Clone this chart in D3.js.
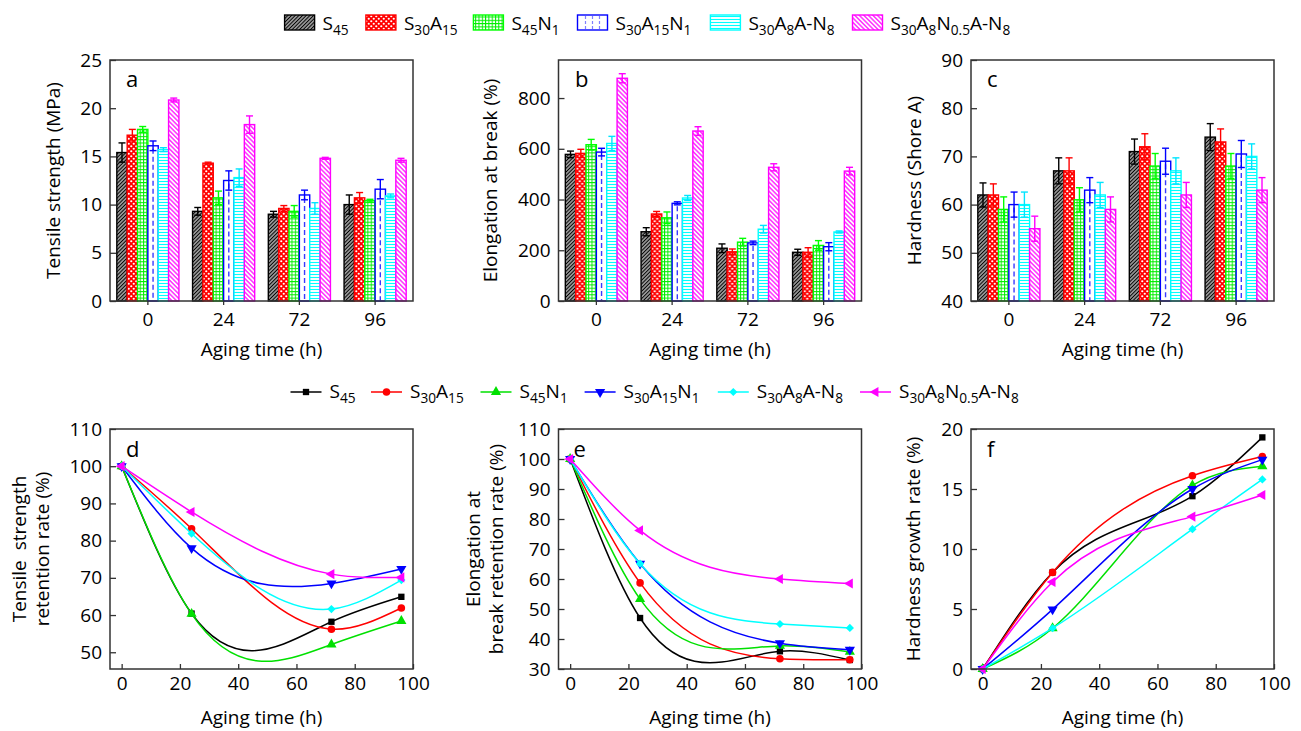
<!DOCTYPE html>
<html>
<head>
<meta charset="utf-8">
<script src="https://cdn.jsdelivr.net/npm/d3@7"></script>
<style>
  body { margin: 0; background: #fff; }
  svg { display: block; font-family: "Open Sans", sans-serif; }
</style>
</head>
<body>
<div id="chart"></div>
<script>
// aging times and samples
const times = [0, 24, 72, 96];
const samples = ['S45', 'S30A15', 'S45N1', 'S30A15N1', 'S30A8A-N8', 'S30A8N0.5A-N8'];
const colors = ['#000000', '#ff0000', '#00ff00', '#0000ff', '#00ffff', '#ff00ff'];
const lineColors = ['#000000', '#ff0000', '#00e000', '#0000ff', '#00ffff', '#ff00ff'];

// tensile strength (MPa), rows = samples, cols = times
const tensileMean = [
  [15.4, 9.3, 9.0, 10.0],
  [17.2, 14.3, 9.6, 10.7],
  [17.8, 10.7, 9.3, 10.4],
  [16.1, 12.5, 11.0, 11.6],
  [15.7, 12.8, 9.6, 10.9],
  [20.85, 18.3, 14.8, 14.6]
];
const tensileErr = [
  [1.0, 0.4, 0.3, 1.0],
  [0.6, 0.1, 0.3, 0.55],
  [0.3, 0.7, 0.6, 0.15],
  [0.5, 1.0, 0.5, 1.0],
  [0.2, 0.9, 0.6, 0.2],
  [0.2, 0.9, 0.1, 0.2]
];
// elongation at break (%)
const elongMean = [
  [578, 273, 208, 192],
  [582, 343, 194, 192],
  [616, 328, 232, 219],
  [587, 385, 229, 214],
  [621, 406, 283, 272],
  [878, 670, 527, 512]
];
const elongErr = [
  [13, 16, 17, 12],
  [16, 10, 11, 18],
  [21, 23, 15, 19],
  [15, 6, 7, 16],
  [28, 10, 15, 4],
  [18, 17, 14, 15]
];
// hardness (Shore A)
const hardMean = [
  [62, 67, 71, 74],
  [62, 67, 72, 73],
  [59, 61, 68, 68],
  [60, 63, 69, 70.5],
  [60, 62, 67, 70],
  [55, 59, 62, 63]
];
const hardErr = [
  [2.5, 2.7, 2.6, 2.8],
  [2.3, 2.7, 2.7, 2.7],
  [2.6, 2.5, 2.6, 2.6],
  [2.6, 2.6, 2.7, 2.8],
  [2.6, 2.6, 2.7, 2.6],
  [2.6, 2.6, 2.6, 2.6]
];
// retention / growth rates (%)
const tensileRetention = [
  [100, 60.4, 58.2, 64.9],
  [100, 83.2, 56.2, 61.9],
  [100, 60.3, 52.1, 58.4],
  [100, 78.0, 68.5, 72.4],
  [100, 81.9, 61.6, 69.4],
  [100, 87.7, 71.0, 70.1]
];
const elongRetention = [
  [100, 47.0, 35.9, 33.0],
  [100, 58.7, 33.4, 33.1],
  [100, 53.3, 37.7, 35.7],
  [100, 65.1, 38.6, 36.4],
  [100, 65.1, 45.0, 43.7],
  [100, 76.2, 60.0, 58.5]
];
const hardGrowth = [
  [0, 8.05, 14.4, 19.3],
  [0, 8.05, 16.1, 17.7],
  [0, 3.4, 15.3, 16.9],
  [0, 4.97, 15.0, 17.45],
  [0, 3.4, 11.65, 15.8],
  [0, 7.25, 12.7, 14.5]
];

const W = 1301, H = 731;
const svg = d3.select('#chart').append('svg').attr('width', W).attr('height', H);
svg.append('rect').attr('width', W).attr('height', H).attr('fill', '#fff');
const defs = svg.append('defs');

// fill patterns
function hatch(id, color, angle, gap, w) {
  const p = defs.append('pattern').attr('id', id)
    .attr('patternUnits', 'userSpaceOnUse')
    .attr('width', gap).attr('height', gap)
    .attr('patternTransform', `rotate(${angle})`);
  p.append('rect').attr('width', gap).attr('height', gap).attr('fill', '#fff');
  p.append('line').attr('x1', gap / 2).attr('x2', gap / 2).attr('y1', 0).attr('y2', gap)
    .attr('stroke', color).attr('stroke-width', w);
}
hatch('p0', '#000', 45, 2.6, 1.6);
hatch('p4', '#00ffff', 90, 3, 1.1);
hatch('p5', '#ff00ff', -45, 3.2, 1.2);

const pr = defs.append('pattern').attr('id', 'p1').attr('patternUnits', 'userSpaceOnUse')
  .attr('width', 5).attr('height', 5);
pr.append('rect').attr('width', 5).attr('height', 5).attr('fill', '#ff0000');
pr.append('circle').attr('cx', 1.25).attr('cy', 1.25).attr('r', 1.1).attr('fill', '#fff');
pr.append('circle').attr('cx', 3.75).attr('cy', 3.75).attr('r', 1.1).attr('fill', '#fff');

const pg = defs.append('pattern').attr('id', 'p2').attr('patternUnits', 'userSpaceOnUse')
  .attr('width', 3.3).attr('height', 3.3);
pg.append('rect').attr('width', 3.3).attr('height', 3.3).attr('fill', '#fff');
pg.append('path').attr('d', 'M0,0.5H3.3M0.5,0V3.3').attr('stroke', '#00ee00').attr('stroke-width', 1);

const fills = ['url(#p0)', 'url(#p1)', 'url(#p2)', '#fff', 'url(#p4)', 'url(#p5)'];

// label with subscripted digits
function richLabel(sel, label) {
  const parts = label.match(/[0-9.]+|[^0-9.]+/g);
  let prevSub = false;
  parts.forEach(p => {
    const isSub = /^[0-9.]+$/.test(p);
    const t = sel.append('tspan').text(p);
    if (isSub) t.attr('font-size', '0.72em').attr('dy', prevSub ? 0 : 5);
    else t.attr('dy', prevSub ? -5 : 0);
    prevSub = isSub;
  });
}

// natural cubic spline y(x), as Origin's spline connect
function NaturalSpline(context) { this._context = context; }
NaturalSpline.prototype = {
  areaStart() {}, areaEnd() {},
  lineStart() { this._x = []; this._y = []; },
  point(x, y) { this._x.push(+x); this._y.push(+y); },
  lineEnd() {
    const X = this._x, Y = this._y, n = X.length, c = this._context;
    if (!n) return;
    c.moveTo(X[0], Y[0]);
    if (n === 2) { c.lineTo(X[1], Y[1]); return; }
    const h = [];
    for (let i = 0; i < n - 1; i++) h.push(X[i + 1] - X[i]);
    const a = [], b = [], cc = [], d = [];
    for (let i = 1; i < n - 1; i++) {
      a.push(h[i - 1]); b.push(2 * (h[i - 1] + h[i])); cc.push(h[i]);
      d.push(6 * ((Y[i + 1] - Y[i]) / h[i] - (Y[i] - Y[i - 1]) / h[i - 1]));
    }
    const m = b.length;
    for (let i = 1; i < m; i++) {
      const w = a[i] / b[i - 1];
      b[i] -= w * cc[i - 1]; d[i] -= w * d[i - 1];
    }
    const sol = new Array(m);
    sol[m - 1] = d[m - 1] / b[m - 1];
    for (let i = m - 2; i >= 0; i--) sol[i] = (d[i] - cc[i] * sol[i + 1]) / b[i];
    const M = [0].concat(sol, [0]);
    for (let i = 0; i < n - 1; i++) {
      const hi = h[i], s = (Y[i + 1] - Y[i]) / hi;
      const d0 = s - hi * (2 * M[i] + M[i + 1]) / 6;
      const d1 = s + hi * (M[i] + 2 * M[i + 1]) / 6;
      c.bezierCurveTo(X[i] + hi / 3, Y[i] + hi / 3 * d0, X[i + 1] - hi / 3, Y[i + 1] - hi / 3 * d1, X[i + 1], Y[i + 1]);
    }
  }
};
const curveNaturalX = ctx => new NaturalSpline(ctx);

// markers
const markers = [
  { type: d3.symbolSquare, size: 40, rot: 0 },
  { type: d3.symbolCircle, size: 45, rot: 0 },
  { type: d3.symbolTriangle, size: 45, rot: 0 },
  { type: d3.symbolTriangle, size: 45, rot: 180 },
  { type: d3.symbolSquare, size: 34, rot: 45 },
  { type: d3.symbolTriangle, size: 45, rot: -90 }
];

const FS = 19;

function frame(g, w, h) {
  g.append('rect').attr('width', w).attr('height', h)
    .attr('fill', 'none').attr('stroke', '#333').attr('stroke-width', 1.5);
}

function styleAxis(ax) {
  ax.select('.domain').remove();
  ax.selectAll('.tick line').attr('stroke', '#333').attr('stroke-width', 1.3);
  ax.selectAll('.tick text').attr('font-size', FS).attr('font-family', '"Open Sans", sans-serif').attr('fill', '#000');
}

function yTitle(g, lines, h) {
  const t = g.append('g');
  lines.forEach(l => {
    t.append('text').attr('transform', `translate(${l.x},${h / 2}) rotate(-90)`)
      .attr('text-anchor', 'middle').attr('font-size', FS).text(l.text);
  });
}

// ---- bar panels ----
const barTop = 60, barH = 241, panelW = 303;
const barPanels = [
  { left: 110, mean: tensileMean, err: tensileErr, domain: [0, 25], ticks: d3.range(0, 26, 5), letter: 'a',
    title: [{ x: -50.5, text: 'Tensile strength (MPa)' }] },
  { left: 558.5, mean: elongMean, err: elongErr, domain: [0, 950], ticks: d3.range(0, 801, 200), letter: 'b',
    title: [{ x: -61.5, text: 'Elongation at break (%)' }] },
  { left: 971, mean: hardMean, err: hardErr, domain: [40, 90], ticks: d3.range(40, 91, 10), letter: 'c',
    title: [{ x: -50.5, text: 'Hardness (Shore A)' }] }
];

barPanels.forEach(p => {
  const g = svg.append('g').attr('transform', `translate(${p.left},${barTop})`);
  const x0 = d3.scaleBand().domain(times).range([0, panelW]).paddingInner(0.18).paddingOuter(0.09);
  const x1 = d3.scaleBand().domain(d3.range(samples.length)).range([0, x0.bandwidth()]);
  const y = d3.scaleLinear().domain(p.domain).range([barH, 0]);

  samples.forEach((s, si) => {
    const sg = g.append('g');
    times.forEach((t, ti) => {
      const v = p.mean[si][ti];
      const bx = x0(t) + x1(si), bw = x1.bandwidth();
      sg.append('rect').attr('x', bx).attr('y', y(v)).attr('width', bw).attr('height', barH - y(v))
        .attr('fill', fills[si]).attr('stroke', colors[si]).attr('stroke-width', 1.4);
      if (si === 3) {
        sg.append('line').attr('x1', bx + bw / 2).attr('x2', bx + bw / 2)
          .attr('y1', y(v) + 3).attr('y2', barH)
          .attr('stroke', '#3a3aff').attr('stroke-width', 1.4).attr('stroke-dasharray', '5,3');
      }
      const e = p.err[si][ti], cx = bx + bw / 2;
      const eg = sg.append('g').attr('stroke', colors[si] === '#00ffff' ? '#00e5ff' : colors[si]).attr('stroke-width', 1.4);
      eg.append('line').attr('x1', cx).attr('x2', cx).attr('y1', y(v + e)).attr('y2', y(v - e));
      eg.append('line').attr('x1', cx - 3.5).attr('x2', cx + 3.5).attr('y1', y(v + e)).attr('y2', y(v + e));
      eg.append('line').attr('x1', cx - 3.5).attr('x2', cx + 3.5).attr('y1', y(v - e)).attr('y2', y(v - e));
    });
  });

  const ay = g.append('g').call(d3.axisLeft(y).tickValues(p.ticks).tickSize(-6).tickPadding(8));
  styleAxis(ay);
  const ax = g.append('g').attr('transform', `translate(0,${barH})`)
    .call(d3.axisBottom(x0).tickSize(4).tickPadding(8));
  styleAxis(ax);
  frame(g, panelW, barH);

  g.append('text').attr('x', panelW / 2).attr('y', barH + 55).attr('text-anchor', 'middle')
    .attr('font-size', FS).text('Aging time (h)');
  yTitle(g, p.title, barH);
  g.append('text').attr('x', p.letter === 'b' ? 16.5 : 16).attr('y', 26.7).attr('font-size', 22).text(p.letter);
});

// ---- line panels ----
const lineTop = 429, lineH = 240;
const linePanels = [
  { left: 110, data: tensileRetention, domain: [45.5, 110], ticks: d3.range(50, 111, 10), letter: 'd',
    title: [{ x: -84, text: 'Tensile\u00a0 strength' }, { x: -61, text: 'retention rate (%)' }] },
  { left: 558.5, data: elongRetention, domain: [30, 110], ticks: d3.range(30, 111, 10), letter: 'e',
    title: [{ x: -78.5, text: 'Elongation at' }, { x: -56, text: 'break retention rate (%)' }] },
  { left: 971, data: hardGrowth, domain: [0, 20], ticks: d3.range(0, 21, 5), letter: 'f',
    title: [{ x: -51, text: 'Hardness growth rate (%)' }] }
];

linePanels.forEach(p => {
  const g = svg.append('g').attr('transform', `translate(${p.left},${lineTop})`);
  const x = d3.scaleLinear().domain([-4, 100]).range([0, panelW]);
  const y = d3.scaleLinear().domain(p.domain).range([lineH, 0]);
  const line = d3.line().x((d, i) => x(times[i])).y(d => y(d)).curve(curveNaturalX);

  const ay = g.append('g').call(d3.axisLeft(y).tickValues(p.ticks).tickSize(-6).tickPadding(8));
  styleAxis(ay);
  const ax = g.append('g').attr('transform', `translate(0,${lineH})`)
    .call(d3.axisBottom(x).tickValues(d3.range(0, 101, 20)).tickSize(-5).tickPadding(8));
  styleAxis(ax);

  samples.forEach((s, si) => {
    g.append('path').attr('d', line(p.data[si])).attr('fill', 'none')
      .attr('stroke', lineColors[si]).attr('stroke-width', 1.5);
    const mk = markers[si];
    g.selectAll(null).data(p.data[si]).enter().append('path')
      .attr('d', d3.symbol().type(mk.type).size(mk.size)())
      .attr('transform', (d, i) => `translate(${x(times[i])},${y(d)}) rotate(${mk.rot})`)
      .attr('fill', lineColors[si]);
  });

  frame(g, panelW, lineH);
  g.append('text').attr('x', panelW / 2).attr('y', lineH + 55).attr('text-anchor', 'middle')
    .attr('font-size', FS).text('Aging time (h)');
  yTitle(g, p.title, lineH);
  g.append('text').attr('x', p.letter === 'e' ? 15 : 16).attr('y', 27.7)
    .attr('font-size', 22).text(p.letter);
});

// ---- legends ----
const barLegendX = [284.6, 365.9, 473.4, 577.5, 710.4, 852.5];
const lineLegendX = [290.5, 371, 480.5, 584.6, 717.8, 860];

const lg1 = svg.append('g');
samples.forEach((s, si) => {
  const lx = barLegendX[si];
  lg1.append('rect').attr('x', lx).attr('y', 15).attr('width', 30).attr('height', 15)
    .attr('fill', fills[si]).attr('stroke', colors[si]).attr('stroke-width', 1.4);
  if (si === 3) {
    [8, 15, 22].forEach(o => lg1.append('line').attr('x1', lx + o).attr('x2', lx + o)
      .attr('y1', 16).attr('y2', 29).attr('stroke', '#8080ff').attr('stroke-width', 1.2)
      .attr('stroke-dasharray', '3,2'));
  }
  const t = lg1.append('text').attr('x', lx + 38).attr('y', 30).attr('font-size', FS);
  richLabel(t, s);
});

const lg2 = svg.append('g');
samples.forEach((s, si) => {
  const lx = lineLegendX[si];
  lg2.append('line').attr('x1', lx).attr('x2', lx + 31).attr('y1', 392).attr('y2', 392)
    .attr('stroke', lineColors[si]).attr('stroke-width', 1.5);
  const mk = markers[si];
  lg2.append('path').attr('d', d3.symbol().type(mk.type).size(mk.size)())
    .attr('transform', `translate(${lx + 15.5},392) rotate(${mk.rot})`).attr('fill', lineColors[si]);
  const t = lg2.append('text').attr('x', lx + 39).attr('y', 398).attr('font-size', FS);
  richLabel(t, s);
});
</script>
</body>
</html>
